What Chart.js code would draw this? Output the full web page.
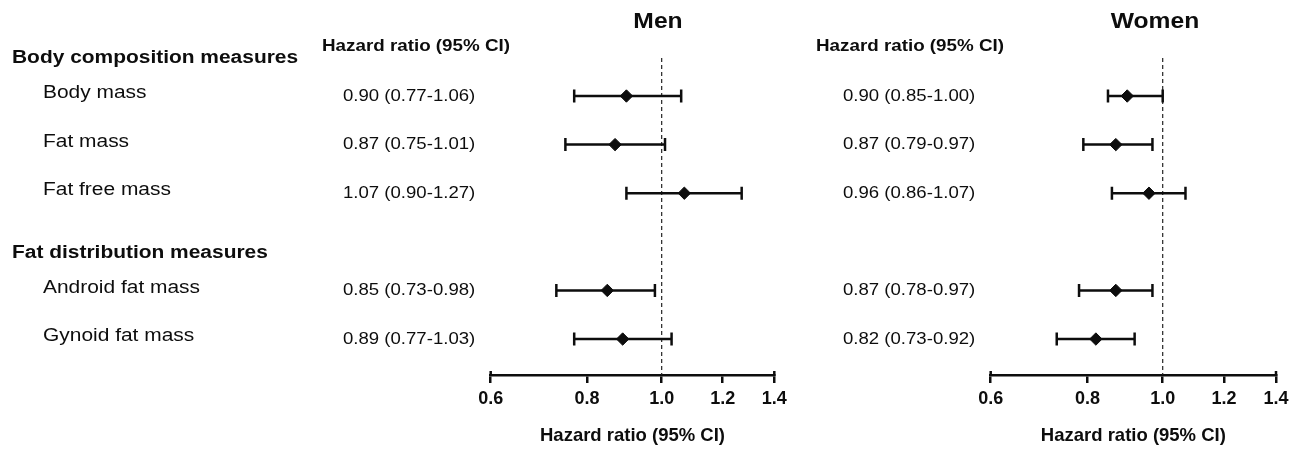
<!DOCTYPE html>
<html>
<head>
<meta charset="utf-8">
<script src="https://cdn.jsdelivr.net/npm/chart.js@4.4.0/dist/chart.umd.min.js"></script>
<style>
  html, body { margin: 0; padding: 0; background: #fff; }
  #men { position: absolute; left: 0; top: 0; }
  #women { position: absolute; left: 800px; top: 0; }
</style>
</head>
<body>
<canvas id="men" width="800" height="452"></canvas>
<canvas id="women" width="500" height="452"></canvas>
<script>
const groups = ['Body composition measures', 'Fat distribution measures'];
const measures = ['Body mass', 'Fat mass', 'Fat free mass', 'Android fat mass', 'Gynoid fat mass'];
const measureGroup = [0, 0, 0, 1, 1];

const menHR = [0.90, 0.87, 1.07, 0.85, 0.89];
const menLow = [0.77, 0.75, 0.90, 0.73, 0.77];
const menHigh = [1.06, 1.01, 1.27, 0.98, 1.03];

const womenHR = [0.90, 0.87, 0.96, 0.87, 0.82];
const womenLow = [0.85, 0.79, 0.86, 0.78, 0.73];
const womenHigh = [1.00, 0.97, 1.07, 0.97, 0.92];

const xTicks = [0.6, 0.8, 1.0, 1.2, 1.4];
const refValue = 1.0;
const columnTitle = 'Hazard ratio (95% CI)';
const axisTitle = 'Hazard ratio (95% CI)';

const FONT = '"Liberation Sans", Arial, Helvetica, sans-serif';
const INK = '#0d0d0d';

// row slot for each measure, leaving one empty slot before the second group
const rowOf = measures.map((m, i) => i + 1 + measureGroup[i]);
const yMax = 6.74;

function drawText(ctx, text, x, y, size, bold, align) {
    ctx.save();
    ctx.font = (bold ? 'bold ' : '') + size + 'px ' + FONT;
    ctx.fillStyle = INK;
    ctx.textAlign = align || 'left';
    ctx.textBaseline = 'middle';
    ctx.translate(x, y);
    ctx.scale(1.12, 1);
    ctx.fillText(text, 0, 0);
    ctx.restore();
}

function hrText(hr, lo, hi, i) {
    return hr[i].toFixed(2) + ' (' + lo[i].toFixed(2) + '-' + hi[i].toFixed(2) + ')';
}

function forestChart(id, title, hr, lo, hi, opt) {
    const ciData = [];
    rowOf.forEach((r, i) => {
        ciData.push({ x: lo[i], y: r }, { x: hi[i], y: r }, { x: null, y: null });
    });
    const pointData = rowOf.map((r, i) => ({ x: hr[i], y: r }));

    const labelsPlugin = {
        id: 'labels' + id,
        afterDraw(chart) {
            const ctx = chart.ctx;
            const ys = chart.scales.y;
            const xs = chart.scales.x;
            const bottom = chart.chartArea.bottom;

            // end caps of the axis reach slightly above the line
            ctx.save();
            ctx.strokeStyle = INK;
            ctx.lineWidth = 2.5;
            [xTicks[0], xTicks[xTicks.length - 1]].forEach(v => {
                const px = xs.getPixelForValue(v);
                ctx.beginPath();
                ctx.moveTo(px, bottom - 4);
                ctx.lineTo(px, bottom + 1);
                ctx.stroke();
            });
            ctx.restore();

            drawText(ctx, title, opt.titleX, 22, 22, true, 'center');
            drawText(ctx, columnTitle, opt.colHeadX, 46, 16.8, true, 'left');

            if (opt.showLabels) {
                groups.forEach((g, gi) => {
                    const first = rowOf[measureGroup.indexOf(gi)];
                    drawText(ctx, g, 12, ys.getPixelForValue(first - 0.78), 18.7, true, 'left');
                });
                measures.forEach((m, i) => {
                    drawText(ctx, m, 43, ys.getPixelForValue(rowOf[i]) - 3, 18.7, false, 'left');
                });
            }
            measures.forEach((m, i) => {
                drawText(ctx, hrText(hr, lo, hi, i), opt.valueX, ys.getPixelForValue(rowOf[i]), 16.6, false, 'left');
            });
        }
    };

    return new Chart(document.getElementById(id), {
        type: 'scatter',
        data: {
            datasets: [
                {
                    label: 'HR',
                    data: pointData,
                    pointStyle: 'rectRot',
                    pointRadius: 6.2,
                    pointBackgroundColor: INK,
                    pointBorderColor: INK,
                    pointBorderWidth: 1,
                    showLine: false,
                    order: 0
                },
                {
                    label: 'CI',
                    data: ciData,
                    showLine: true,
                    spanGaps: false,
                    borderColor: INK,
                    borderWidth: 2.5,
                    pointStyle: 'line',
                    rotation: 90,
                    pointRadius: 6.5,
                    pointBorderColor: INK,
                    pointBorderWidth: 2.5,
                    order: 1
                },
                {
                    label: 'ref',
                    data: [{ x: refValue, y: 0.22 }, { x: refValue, y: yMax }],
                    showLine: true,
                    borderColor: '#222',
                    borderWidth: 1.2,
                    borderDash: [4, 3],
                    pointRadius: 0,
                    order: 2
                }
            ]
        },
        options: {
            responsive: false,
            animation: false,
            layout: { padding: { left: opt.left, right: opt.right, top: 47.4, bottom: 0 } },
            plugins: { legend: { display: false }, tooltip: { enabled: false } },
            scales: {
                x: {
                    type: 'logarithmic',
                    min: 0.6,
                    max: 1.4,
                    afterBuildTicks: s => { s.ticks = xTicks.map(v => ({ value: v })); },
                    afterFit: s => { s.height = 77; },
                    grid: { drawOnChartArea: false, drawTicks: true, tickLength: 8, color: INK, lineWidth: 2.5 },
                    border: { display: true, color: INK, width: 2.5 },
                    ticks: {
                        color: INK,
                        padding: 5,
                        autoSkip: false,
                        maxRotation: 0,
                        font: { family: FONT, size: 18, weight: 'bold' },
                        callback: value => Number(value).toFixed(1)
                    },
                    title: {
                        display: true,
                        text: axisTitle,
                        color: INK,
                        font: { family: FONT, size: 18.5, weight: 'bold' },
                        padding: { top: 0, bottom: 5 }
                    }
                },
                y: { type: 'linear', min: 0, max: yMax, reverse: true, display: false }
            }
        },
        plugins: [labelsPlugin]
    });
}

forestChart('men', 'Men', menHR, menLow, menHigh,
    { left: 490.7, right: 25.7, titleX: 658, colHeadX: 322, valueX: 343, showLabels: true });
forestChart('women', 'Women', womenHR, womenLow, womenHigh,
    { left: 190.7, right: 24, titleX: 355, colHeadX: 16, valueX: 43, showLabels: false });
</script>
</body>
</html>
